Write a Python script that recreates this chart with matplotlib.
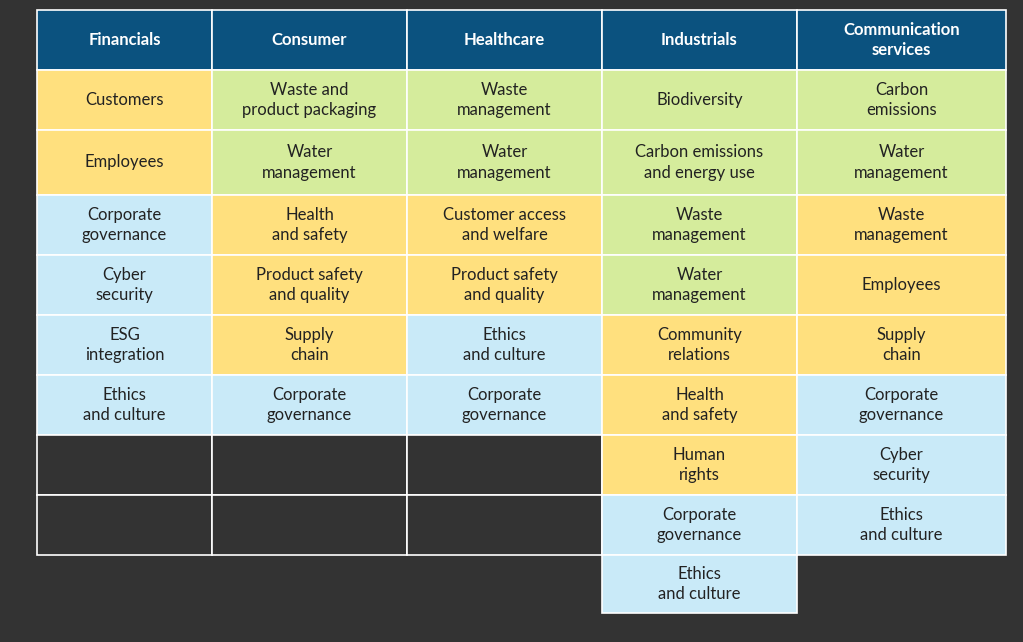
import matplotlib.pyplot as plt
from matplotlib.patches import Rectangle

headers = ["Financials", "Consumer", "Healthcare", "Industrials", "Communication\nservices"]

# (text, group) per column; group: y = yellow, g = green, b = blue
financials = [("Customers", "y"), ("Employees", "y"), ("Corporate\ngovernance", "b"),
              ("Cyber\nsecurity", "b"), ("ESG\nintegration", "b"), ("Ethics\nand culture", "b")]
consumer = [("Waste and\nproduct packaging", "g"), ("Water\nmanagement", "g"), ("Health\nand safety", "y"),
            ("Product safety\nand quality", "y"), ("Supply\nchain", "y"), ("Corporate\ngovernance", "b")]
healthcare = [("Waste\nmanagement", "g"), ("Water\nmanagement", "g"), ("Customer access\nand welfare", "y"),
              ("Product safety\nand quality", "y"), ("Ethics\nand culture", "b"), ("Corporate\ngovernance", "b")]
industrials = [("Biodiversity", "g"), ("Carbon emissions\nand energy use", "g"), ("Waste\nmanagement", "g"),
               ("Water\nmanagement", "g"), ("Community\nrelations", "y"), ("Health\nand safety", "y"),
               ("Human\nrights", "y"), ("Corporate\ngovernance", "b"), ("Ethics\nand culture", "b")]
communication = [("Carbon\nemissions", "g"), ("Water\nmanagement", "g"), ("Waste\nmanagement", "y"),
                 ("Employees", "y"), ("Supply\nchain", "y"), ("Corporate\ngovernance", "b"),
                 ("Cyber\nsecurity", "b"), ("Ethics\nand culture", "b")]
columns = [financials, consumer, healthcare, industrials, communication]

colors = {"y": "#ffe07e", "g": "#d5ec9c", "b": "#c9eaf8"}
bg = "#333333"
head_color = "#0b527f"

col_x = [37, 212, 407, 602, 797, 1006]
row_y = [10, 70, 130, 195, 255, 315, 375, 435, 495, 555, 613]
grid_rows = 8  # rows of the drawn grid (empty cells included)

plt.rcParams['font.family'] = ['Lato', 'DejaVu Sans']
fig = plt.figure(figsize=(10.23, 6.42), dpi=100)
fig.patch.set_facecolor(bg)
ax = fig.add_axes([0, 0, 1, 1])
ax.set_xlim(0, 1023)
ax.set_ylim(642, 0)
ax.axis("off")

for c, head in enumerate(headers):
    x0, x1 = col_x[c], col_x[c + 1]
    ax.add_patch(Rectangle((x0, row_y[0]), x1 - x0, row_y[1] - row_y[0],
                           facecolor=head_color, edgecolor="white", lw=1.2))
    ax.text((x0 + x1) / 2, (row_y[0] + row_y[1]) / 2, head, ha="center", va="center",
            color="white", fontsize=12, fontweight="bold", linespacing=1.3)
    cells = columns[c]
    n = max(grid_rows, len(cells))
    for r in range(n):
        y0, y1 = row_y[r + 1], row_y[r + 2]
        if r < len(cells):
            text, grp = cells[r]
            ax.add_patch(Rectangle((x0, y0), x1 - x0, y1 - y0,
                                   facecolor=colors[grp], edgecolor="white", lw=1.2))
            ax.text((x0 + x1) / 2, (y0 + y1) / 2, text, ha="center", va="center",
                    color="#222222", fontsize=12, linespacing=1.35)
        else:
            ax.add_patch(Rectangle((x0, y0), x1 - x0, y1 - y0,
                                   facecolor=bg, edgecolor="white", lw=1.2))

fig.savefig("out.png", dpi=100, facecolor=bg)
